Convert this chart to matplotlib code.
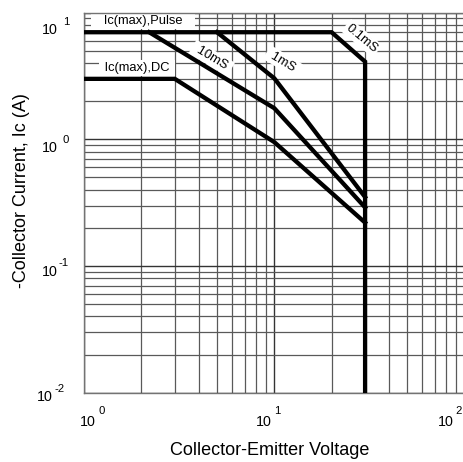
import matplotlib
matplotlib.use('Agg')
import matplotlib.pyplot as plt
from matplotlib.ticker import LogLocator, NullFormatter

plt.rcParams['font.family'] = ['Liberation Sans', 'DejaVu Sans']

# safe operating area curves (Vce in V, Ic in A)
pulse_v = [1, 20, 30, 30]
pulse_i = [7.0, 7.0, 4.1, 0.01]
ms10_v = [2.2, 10, 30]
ms10_i = [7.0, 1.76, 0.29]
ms1_v = [5, 10, 30]
ms1_i = [7.0, 3.03, 0.35]
dc_v = [1, 3, 10, 30]
dc_i = [3.0, 3.0, 0.95, 0.22]

x_ticks = [1, 10, 100]
x_exps = ['0', '1', '2']
y_ticks = [0.01, 0.1, 1, 10]
y_exps = ['-2', '-1', '0', '1']

PX = 0.72  # points per pixel at 100 dpi

fig = plt.figure(figsize=(4.64, 4.62), dpi=100)
ax = fig.add_axes([84 / 464, 69.3 / 462, 380.6 / 464, 380.1 / 462])

ax.set_xscale('log')
ax.set_yscale('log')
ax.set_xlim(1, 100)
ax.set_ylim(0.01, 10)

ax.xaxis.set_minor_locator(LogLocator(base=10, subs=range(2, 10)))
ax.yaxis.set_minor_locator(LogLocator(base=10, subs=range(2, 10)))
ax.xaxis.set_minor_formatter(NullFormatter())
ax.yaxis.set_minor_formatter(NullFormatter())
ax.set_xticks(x_ticks)
ax.set_yticks(y_ticks)
ax.tick_params(which='both', length=0, labelbottom=False, labelleft=False)

ax.grid(True, which='major', color='0.2', linewidth=1.0)
ax.grid(True, which='minor', color='0.35', linewidth=0.9)
ax.set_axisbelow(True)

for s in ax.spines.values():
    s.set_color('0.45')
    s.set_linewidth(1.0)

kw = dict(color='black', linewidth=3.1, solid_joinstyle='miter', zorder=3)
ax.plot(pulse_v, pulse_i, **kw)
ax.plot(ms10_v, ms10_i, **kw)
ax.plot(ms1_v, ms1_i, **kw)
ax.plot(dc_v, dc_i, **kw)

box = dict(boxstyle='square,pad=0.15', facecolor='white', edgecolor='none')
fs = 9.3
ax.text(2.04, 8.63, '   Ic(max),Pulse   ', fontsize=fs, ha='center', va='center', bbox=box, zorder=2)
ax.text(1.90, 3.66, ' Ic(max),DC ', fontsize=fs, ha='center', va='center', bbox=box, zorder=2)
ax.text(4.69, 4.38, ' 10mS ', fontsize=fs, ha='center', va='center', rotation=-31,
        rotation_mode='anchor', bbox=box, zorder=2)
ax.text(11.1, 4.1, ' 1mS ', fontsize=fs, ha='center', va='center', rotation=-31,
        rotation_mode='anchor', bbox=box, zorder=2)
ax.text(28.8, 6.27, '0.1mS', fontsize=fs, ha='center', va='center', rotation=-40,
        rotation_mode='anchor', bbox=box, zorder=2)

# power-of-ten tick labels, drawn as "10" plus a raised exponent
x_dx = [4.3, -10.5, -18.8]
for t, e, dx in zip(x_ticks, x_exps, x_dx):
    ax.annotate('10', xy=(t, 0), xycoords=('data', 'axes fraction'),
                xytext=(dx * PX, -29.3 * PX), textcoords='offset points',
                ha='center', va='center', fontsize=10.3, annotation_clip=False)
    ax.annotate(e, xy=(t, 0), xycoords=('data', 'axes fraction'),
                xytext=((dx + 10) * PX, -18.3 * PX), textcoords='offset points',
                ha='left', va='center', fontsize=8.2, annotation_clip=False)

y_dy = [-4.3, -5.7, -9, -17.4]
y_ten = [-31, -26, -26, -26]
y_exl = [-29, -25, -21, -21]
for t, e, dy, tx, ex in zip(y_ticks, y_exps, y_dy, y_ten, y_exl):
    ax.annotate('10', xy=(0, t), xycoords=('axes fraction', 'data'),
                xytext=(tx * PX, dy * PX), textcoords='offset points',
                ha='right', va='center', fontsize=10.3, annotation_clip=False)
    ax.annotate(e, xy=(0, t), xycoords=('axes fraction', 'data'),
                xytext=(ex * PX, (dy + 8.4) * PX), textcoords='offset points',
                ha='left', va='center', fontsize=8.2, annotation_clip=False)

ax.set_xlabel('Collector-Emitter Voltage', fontsize=13, va='center')
ax.xaxis.set_label_coords(0.489, -0.151)
ax.set_ylabel('-Collector Current, Ic (A)', fontsize=13, va='center')
ax.yaxis.set_label_coords(-0.163, 0.531)

fig.savefig('out.png', dpi=100)
